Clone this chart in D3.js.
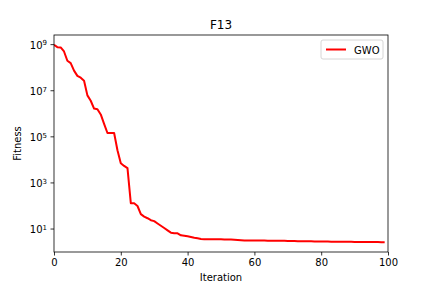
<!DOCTYPE html>
<html>
<head>
<meta charset="utf-8">
<script src="https://cdn.jsdelivr.net/npm/d3@7"></script>
<style>
  body { margin: 0; background: #fff; }
  text { font-family: "DejaVu Sans", sans-serif; fill: #000; }
</style>
</head>
<body>
<svg width="432" height="288"></svg>
<script>
// convergence curve of GWO on F13
var iterations = d3.range(0, 100);
var gwo = [
  9.3e8, 7.4e8, 7.2e8, 4.8e8, 1.9e8, 1.5e8, 7.1e7, 4.2e7, 3.5e7, 2.6e7,
  6.0e6, 3.5e6, 1.6e6, 1.5e6, 8.9e5, 3.5e5, 1.4e5, 1.4e5, 1.4e5, 2.5e4,
  6.8e3, 5.2e3, 4.2e3, 126, 124, 95, 42, 33, 28, 23,
  21, 16.6, 13.2, 10.5, 8.3, 6.6, 6.3, 6.2, 5.1, 4.9,
  4.6, 4.3, 4.0, 3.8, 3.55, 3.4, 3.4, 3.4, 3.4, 3.4,
  3.39, 3.38, 3.37, 3.35, 3.3, 3.2, 3.1, 3.02, 3.02, 3.02,
  3.02, 3.02, 3.01, 3.0, 2.98, 2.97, 2.96, 2.95, 2.94, 2.92,
  2.9, 2.88, 2.86, 2.84, 2.83, 2.82, 2.8, 2.78, 2.77, 2.76,
  2.75, 2.74, 2.72, 2.7, 2.68, 2.67, 2.66, 2.65, 2.65, 2.64,
  2.63, 2.62, 2.61, 2.6, 2.6, 2.59, 2.58, 2.58, 2.57, 2.57
];
var xTicks = [0, 20, 40, 60, 80, 100];
var yTickExp = [1, 3, 5, 7, 9];

var svg = d3.select("svg"),
    width = +svg.attr("width"),
    height = +svg.attr("height");

var margin = {left: 54, right: 44, top: 35, bottom: 36};
var x0 = margin.left, x1 = width - margin.right,
    y0 = margin.top, y1 = height - margin.bottom;

// matplotlib style 5% margin in log space
var lo = Math.log10(d3.min(gwo)), hi = Math.log10(d3.max(gwo)),
    pad = (hi - lo) * 0.05;

var x = d3.scaleLinear().domain([0, 100]).range([x0, x1]);
var y = d3.scaleLog()
    .domain([Math.pow(10, lo - pad), Math.pow(10, hi + pad)])
    .range([y1, y0]);

// data line
var line = d3.line()
    .x(function(d, i) { return x(iterations[i]); })
    .y(function(d) { return y(d); });

svg.append("defs").append("clipPath").attr("id", "clip")
  .append("rect").attr("x", x0).attr("y", y0)
  .attr("width", x1 - x0).attr("height", y1 - y0);

svg.append("path")
    .datum(gwo)
    .attr("clip-path", "url(#clip)")
    .attr("fill", "none")
    .attr("stroke", "#ff0000")
    .attr("stroke-width", 2)
    .attr("stroke-linejoin", "round")
    .attr("d", line);

// x axis
var xAxis = svg.append("g")
    .attr("transform", "translate(0," + y1 + ")")
    .call(d3.axisBottom(x).tickValues(xTicks).tickSize(3.5).tickPadding(3.5).tickFormat(d3.format("d")));
xAxis.select(".domain").remove();
xAxis.selectAll("line").attr("stroke", "#000").attr("stroke-width", 0.8);
xAxis.selectAll("text").attr("font-size", 10).attr("font-family", "DejaVu Sans");

// y axis with 10^n labels
var yAxis = svg.append("g")
    .attr("transform", "translate(" + x0 + ",0)")
    .call(d3.axisLeft(y).tickValues(yTickExp.map(function(e) { return Math.pow(10, e); }))
      .tickSize(3.5).tickPadding(3.5).tickFormat(""));
yAxis.select(".domain").remove();
yAxis.selectAll("line").attr("stroke", "#000").attr("stroke-width", 0.8);
yAxis.selectAll(".tick text").each(function(d) {
  var t = d3.select(this)
      .attr("font-size", 10)
      .attr("font-family", "DejaVu Sans")
      .attr("dy", "0.4em");
  t.append("tspan").text("10");
  t.append("tspan").attr("dy", "-0.45em").attr("font-size", 7)
    .text(Math.round(Math.log10(d)));
});

// frame
svg.append("rect")
    .attr("x", x0).attr("y", y0)
    .attr("width", x1 - x0).attr("height", y1 - y0)
    .attr("fill", "none").attr("stroke", "#000").attr("stroke-width", 0.8);

// labels
svg.append("text")
    .attr("x", (x0 + x1) / 2).attr("y", y0 - 6)
    .attr("text-anchor", "middle").attr("font-size", 12)
    .text("F13");

svg.append("text")
    .attr("x", (x0 + x1) / 2).attr("y", y1 + 29)
    .attr("text-anchor", "middle").attr("font-size", 10)
    .text("Iteration");

svg.append("text")
    .attr("transform", "translate(21," + ((y0 + y1) / 2) + ") rotate(-90)")
    .attr("text-anchor", "middle").attr("font-size", 10)
    .text("Fitness");

// legend
var legend = svg.append("g").attr("transform", "translate(" + (x1 - 67) + "," + (y0 + 5) + ")");
legend.append("rect")
    .attr("width", 62).attr("height", 19).attr("rx", 2)
    .attr("fill", "#fff").attr("fill-opacity", 0.8)
    .attr("stroke", "#cccccc").attr("stroke-width", 0.8);
legend.append("line")
    .attr("x1", 5).attr("x2", 25).attr("y1", 9.5).attr("y2", 9.5)
    .attr("stroke", "#ff0000").attr("stroke-width", 2);
legend.append("text")
    .attr("x", 33).attr("y", 13.5).attr("font-size", 10)
    .text("GWO");
</script>
</body>
</html>
